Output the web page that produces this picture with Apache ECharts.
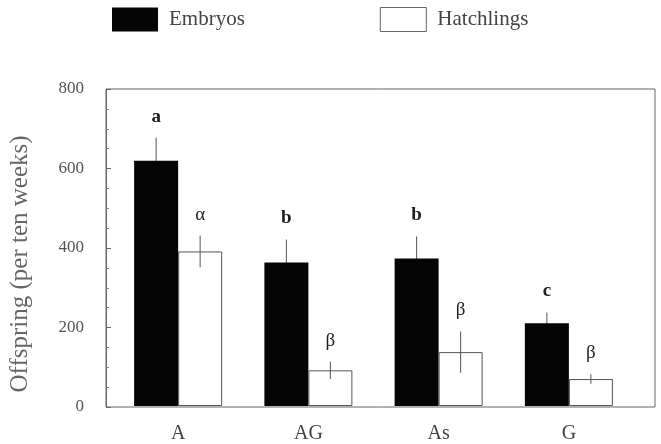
<!DOCTYPE html>
<html><head><meta charset="utf-8">
<script src="https://cdn.jsdelivr.net/npm/echarts@6/dist/echarts.min.js"></script>
<style>html,body{margin:0;padding:0;background:#fff}#c{width:661px;height:444px}</style>
</head><body><div id="c"></div>
<script>
const categories = ['A', 'AG', 'As', 'G'];
const embryos = [619, 362, 372, 209];
const embryoErr = [58, 58, 56, 27];
const embryoLetters = ['a', 'b', 'b', 'c'];
const hatchlings = [390, 90, 136, 68];
const hatchlingErr = [40, 22, 52, 12];
const hatchlingLetters = ['\u03b1', '\u03b2', '\u03b2', '\u03b2'];
const yTicks = [0, 200, 400, 600, 800];

const FONT = 'Liberation Serif';
const TEXT = '#444';
const LINE = '#555';
const BAR_W = 44;

function errSeries(values, errs, letters, side, bold, z) {
  return {
    type: 'custom', xAxisIndex: 1, yAxisIndex: 1, z: z, silent: true,
    data: values.map((v, i) => [i, v, errs[i], letters[i]]),
    renderItem: function (params, api) {
      const i = api.value(0), v = api.value(1), e = api.value(2);
      const x = api.coord([i, v])[0] + side * BAR_W / 2;
      const yTop = api.coord([i, v + e])[1];
      const yBot = api.coord([i, v - e])[1];
      return {
        type: 'group', children: [
          { type: 'line', shape: { x1: x, y1: yTop, x2: x, y2: yBot }, style: { stroke: LINE, lineWidth: 1 } },
          { type: 'text', x: x, y: yTop - 21, style: { text: letters[params.dataIndex], fill: '#222', font: (bold ? 'bold ' : '') + '19px "' + FONT + '"', textAlign: 'center', textVerticalAlign: 'middle' } }
        ]
      };
    }
  };
}

const chart = echarts.init(document.getElementById('c'));
chart.setOption({
  animation: false,
  textStyle: { fontFamily: FONT },
  legend: {
    left: 107, top: 2, itemWidth: 46, itemHeight: 24, itemGap: 135,
    textStyle: { fontFamily: FONT, fontSize: 21, color: TEXT, padding: [0, 0, 0, 6] },
    data: [
      { name: 'Embryos', icon: 'rect', itemStyle: { color: '#050505', borderWidth: 0 } },
      { name: 'Hatchlings', icon: 'rect', itemStyle: { color: '#fff', borderColor: '#666', borderWidth: 1 } }
    ]
  },
  grid: [
    { left: 106, right: 6, top: 89, bottom: 37, show: true, borderColor: '#666', borderWidth: 1, backgroundColor: 'transparent' },
    { left: 113, right: 27, top: 89, bottom: 37 }
  ],
  xAxis: [
    { gridIndex: 0, type: 'value', min: 0, max: 1, show: false },
    { gridIndex: 1, type: 'category', data: categories,
      axisLine: { show: false }, axisTick: { show: false },
      axisLabel: { fontFamily: FONT, fontSize: 20, color: TEXT, margin: 18 } }
  ],
  yAxis: [
    { gridIndex: 0, type: 'value', min: 0, max: 800, interval: 200,
      name: 'Offspring (per ten weeks)', nameLocation: 'middle', nameGap: 73,
      nameTextStyle: { fontFamily: FONT, fontSize: 25, color: '#666', padding: [0, 32, 0, 0] },
      axisLine: { show: true, lineStyle: { color: '#666' } },
      axisTick: { show: true, inside: true, length: 5, lineStyle: { color: '#666' } },
      minorTick: { show: true, splitNumber: 4, length: 3, lineStyle: { color: '#888' } },
      splitLine: { show: false },
      axisLabel: { fontFamily: FONT, fontSize: 17, color: '#555', margin: 22,
        formatter: v => yTicks.indexOf(v) >= 0 ? String(v) : '' } },
    { gridIndex: 1, type: 'value', min: 0, max: 800, show: false }
  ],
  series: [
    { name: 'Embryos', type: 'bar', xAxisIndex: 1, yAxisIndex: 1, data: embryos, z: 3,
      barWidth: BAR_W, barGap: '0%', itemStyle: { color: '#050505', borderColor: '#050505', borderWidth: 0 } },
    { name: 'Hatchlings', type: 'bar', xAxisIndex: 1, yAxisIndex: 1, data: hatchlings, z: 3,
      barWidth: BAR_W, barGap: '0%', itemStyle: { color: '#fff', borderColor: '#555', borderWidth: 1 } },
    errSeries(embryos, embryoErr, embryoLetters, -1, true, 1),
    errSeries(hatchlings, hatchlingErr, hatchlingLetters, 1, false, 5)
  ]
});
</script></body></html>
